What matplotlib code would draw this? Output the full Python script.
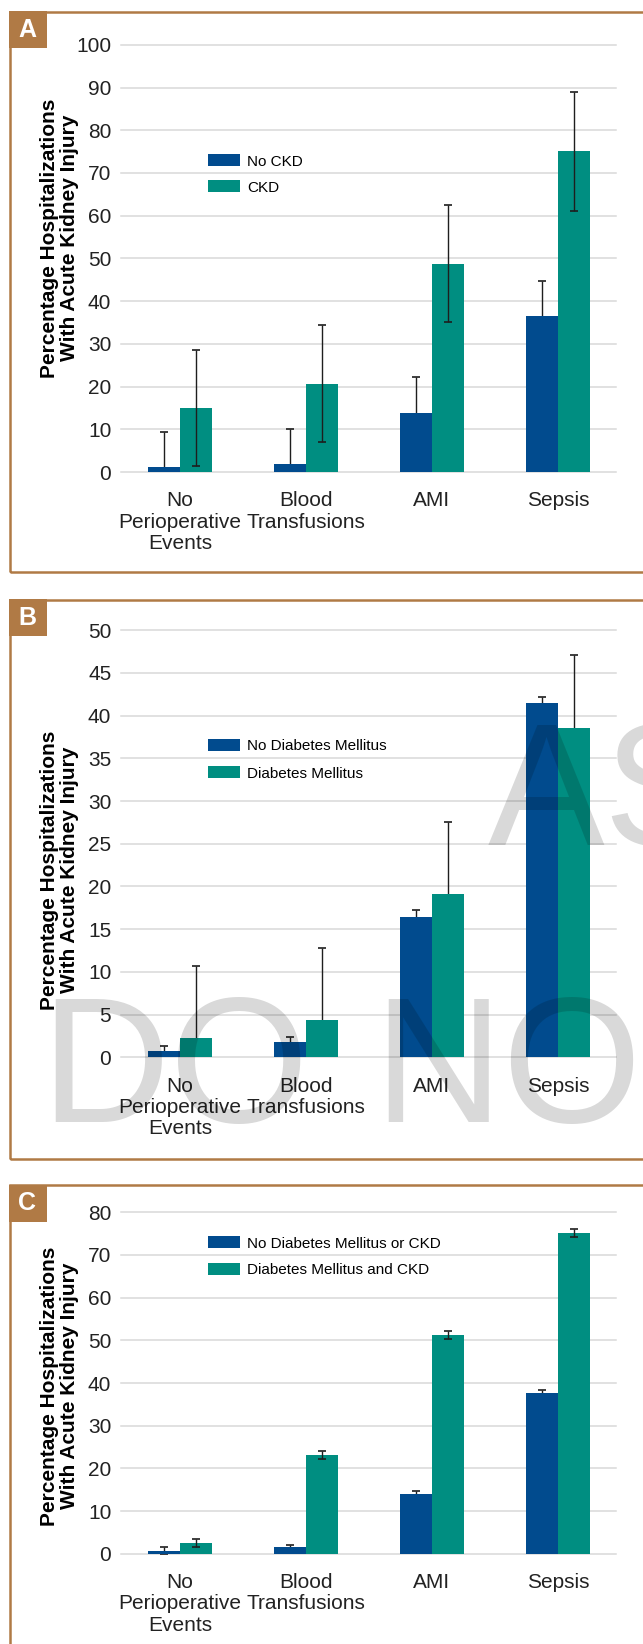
"""Perioperative AKI rates by CKD / diabetes status, three stacked panels."""
import matplotlib

matplotlib.use("Agg")
import matplotlib.pyplot as plt  # noqa: E402
from matplotlib.patches import Rectangle  # noqa: E402

W, H = 643, 1644
BROWN = "#b07a45"
BLUE = "#014b8e"
TEAL = "#008e81"
GRID = "#d9d9d9"
ERR = "#1e1e1e"

categories = ["No\nPerioperative\nEvents", "Blood\nTransfusions", "AMI", "Sepsis"]

# Panel A: CKD
no_ckd = [1.1, 1.8, 13.9, 36.6]
no_ckd_err = [8.2, 8.2, 8.3, 8.0]
ckd = [14.9, 20.7, 48.8, 75.1]
ckd_err = [13.6, 13.6, 13.6, 13.9]

# Panel B: diabetes mellitus
no_dm = [0.74, 1.78, 16.4, 41.5]
no_dm_err = [0.6, 0.6, 0.8, 0.7]
dm = [2.25, 4.33, 19.1, 38.6]
dm_err = [8.4, 8.5, 8.4, 8.5]

# Panel C: neither vs both
no_dm_ckd = [0.6, 1.6, 14.0, 37.7]
no_dm_ckd_err = [0.9, 0.5, 0.8, 0.7]
dm_ckd = [2.5, 23.1, 51.2, 75.1]
dm_ckd_err = [0.9, 1.0, 0.9, 1.0]

ylabel = "Percentage Hospitalizations\nWith Acute Kidney Injury"


def fx(x):
    return x / W


def fy(y):
    return 1 - y / H


def panel_frame(fig, letter, top, bottom, box_top):
    """Brown open frame plus the filled letter tab in the top-left corner."""
    fig.add_artist(Rectangle((fx(10.3), fy(bottom)), fx(800) - fx(10.3), fy(top) - fy(bottom),
                             transform=fig.transFigure, fill=False, ec=BROWN, lw=1.8))
    fig.add_artist(Rectangle((fx(9), fy(box_top + 37)), fx(37.7), 37 / H,
                             transform=fig.transFigure, fc=BROWN, ec="none"))
    fig.text(fx(27.5), fy(box_top + 18.5), letter, color="white", fontsize=18,
             fontweight="bold", ha="center", va="center", family="Liberation Sans")


def legend_rows(fig, labels, y_rows):
    for lab, color, y in zip(labels, [BLUE, TEAL], y_rows):
        fig.add_artist(Rectangle((fx(208), fy(y + 6)), fx(32), 12 / H,
                                 transform=fig.transFigure, fc=color, ec="none"))
        fig.text(fx(247), fy(y), lab, fontsize=11, ha="left", va="center_baseline")


def y_title(fig, y_center):
    fig.text(fx(59.7), fy(y_center), ylabel, rotation=90, fontsize=15, fontweight="bold",
             ha="center", va="center", multialignment="center", linespacing=1.08)


def bar_panel(fig, y0_px, ytop_px, ymax, step, s1, e1, s2, e2, teal_err_front=True):
    ax = fig.add_axes([fx(121), fy(y0_px), fx(616) - fx(121), (y0_px - ytop_px) / H])
    x = list(range(len(categories)))
    w = 0.254
    x1 = [i - w / 2 for i in x]
    x2 = [i + w / 2 for i in x]
    ax.bar(x1, s1, width=w, color=BLUE, zorder=3)
    ax.bar(x2, s2, width=w, color=TEAL, zorder=3)
    ekw = dict(fmt="none", ecolor=ERR, elinewidth=1.0, capsize=3, capthick=1.2)
    ax.errorbar(x1, s1, yerr=e1, zorder=2, **ekw)
    ax.errorbar(x2, s2, yerr=e2, zorder=4 if teal_err_front else 2, **ekw)

    ax.set_xlim(-0.468, 3.46)
    ax.set_ylim(0, ymax)
    ax.set_yticks(range(0, ymax + 1, step))
    ax.set_xticks(x)
    ax.set_xticklabels(categories, fontsize=15, linespacing=1.15)
    ax.tick_params(axis="y", length=0, pad=7, labelsize=15, labelcolor="#222222")
    ax.tick_params(axis="x", length=0, pad=14, labelcolor="#222222")
    ax.grid(axis="y", color=GRID, lw=1.1, zorder=0)
    ax.set_axisbelow(True)
    for gl in ax.yaxis.get_gridlines():
        gl.set_clip_on(False)
    for sp in ax.spines.values():
        sp.set_visible(False)
    return ax


def main():
    plt.rcParams["font.family"] = ["Liberation Sans", "DejaVu Sans"]
    fig = plt.figure(figsize=(W / 100, H / 100), dpi=100)

    # A
    panel_frame(fig, "A", 12.5, 572, 11.3)
    bar_panel(fig, 472, 44.8, 100, 10, no_ckd, no_ckd_err, ckd, ckd_err)
    y_title(fig, 238)
    legend_rows(fig, ["No CKD", "CKD"], [160, 186.4])

    # B
    panel_frame(fig, "B", 600.3, 1159, 599)
    bar_panel(fig, 1057.2, 630.3, 50, 5, no_dm, no_dm_err, dm, dm_err, teal_err_front=False)
    y_title(fig, 870)
    legend_rows(fig, ["No Diabetes Mellitus", "Diabetes Mellitus"], [745, 772.3])

    # C
    panel_frame(fig, "C", 1185.4, 1800, 1184.5)
    bar_panel(fig, 1553.7, 1212.3, 80, 10, no_dm_ckd, no_dm_ckd_err, dm_ckd, dm_ckd_err)
    y_title(fig, 1386)
    legend_rows(fig, ["No Diabetes Mellitus or CKD", "Diabetes Mellitus and CKD"],
                [1242.3, 1268.7])

    # stamped watermark across panel B
    wm = dict(color="black", alpha=0.15, ha="left", va="baseline", zorder=10)
    fig.text(fx(40), fy(1122), "DO", fontsize=129, **wm)
    fig.text(fx(373.5), fy(1122), "NO", fontsize=129, **wm)
    fig.text(fx(488), fy(844.5), "AS", fontsize=126, **wm)

    fig.savefig("out.png", dpi=100)
    plt.close(fig)


if __name__ == "__main__":
    main()
